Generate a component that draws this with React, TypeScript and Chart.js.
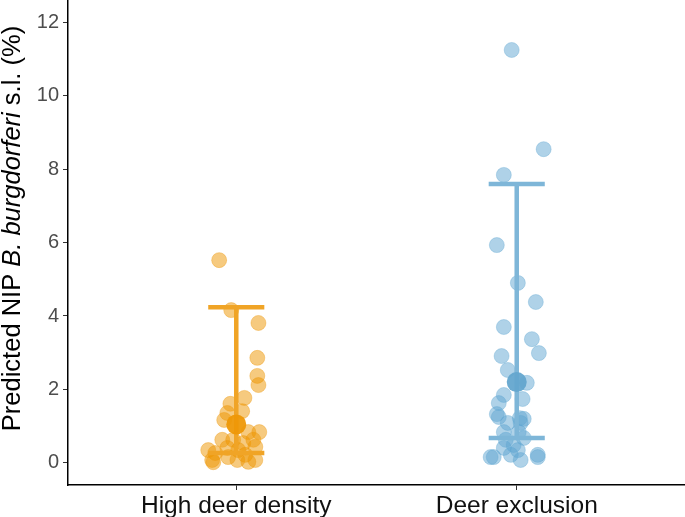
import React, { useEffect, useRef } from "react";
import { Chart, registerables } from "chart.js";

Chart.register(...registerables);

const categories = ["High deer density", "Deer exclusion"];
const yTicks = [0, 2, 4, 6, 8, 10, 12];

// High deer density: horizontal jitter (category units) and predicted NIP (%)
const highJitter = [-0.061, -0.018, 0.079, 0.075, 0.075, 0.079, 0.029, -0.021, 0.021, -0.032, -0.043, 0.043, 0.082, 0.061, -0.05, -0.011, 0.025, 0.068, -0.1, -0.075, 0.007, 0.032, -0.086, 0.004, 0.068, 0.043, -0.029, -0.082, -0.032];
const highValues = [5.52, 4.16, 3.81, 2.86, 2.37, 2.12, 1.77, 1.61, 1.41, 1.36, 1.17, 0.84, 0.84, 0.63, 0.63, 0.63, 0.54, 0.44, 0.35, 0.27, 0.35, 0.22, 0.08, 0.08, 0.08, 0.03, 0.16, 0.02, 0.41];

// Deer exclusion
const exclJitter = [-0.018, 0.096, -0.046, -0.071, 0.004, 0.068, -0.046, 0.054, 0.079, -0.054, -0.032, 0.036, -0.046, -0.064, 0.021, -0.071, -0.064, 0.011, 0.025, -0.032, 0.014, -0.046, 0.007, 0.025, -0.039, -0.011, -0.046, -0.093, -0.082, -0.021, 0.014, 0.075, 0.075, 0.004];
const exclValues = [11.24, 8.54, 7.84, 5.93, 4.9, 4.38, 3.7, 3.37, 2.99, 2.91, 2.53, 2.18, 1.85, 1.63, 1.74, 1.33, 1.25, 1.22, 1.2, 1.09, 1.09, 0.84, 0.84, 0.68, 0.63, 0.49, 0.41, 0.16, 0.16, 0.22, 0.08, 0.22, 0.16, 0.35];

// Summary: mean, lower and upper bound per category
const means = [1.05, 2.2];
const lowers = [0.27, 0.68];
const uppers = [4.24, 7.59];

const capHalf = 0.1;
const FONT = "'Liberation Sans', Arial, Helvetica, sans-serif";

const orangePt = "rgba(238,150,0,0.5)";
const orangePtBorder = "rgba(238,150,0,0.35)";
const orangeBar = "rgb(240,164,38)";
const orangeMean = "rgba(238,152,6,0.95)";
const bluePt = "rgba(95,165,209,0.5)";
const bluePtBorder = "rgba(95,165,209,0.35)";
const blueBar = "rgb(126,182,216)";
const blueMean = "rgba(100,166,207,0.95)";

function errorBar(i: number) {
  const x = i + 1;
  return [
    { x: x - capHalf, y: uppers[i] },
    { x: x + capHalf, y: uppers[i] },
    { x: x, y: null },
    { x: x, y: uppers[i] },
    { x: x, y: lowers[i] },
    { x: x, y: null },
    { x: x - capHalf, y: lowers[i] },
    { x: x + capHalf, y: lowers[i] },
  ];
}

const yTitlePlugin = {
  id: "yTitle",
  afterDraw(chart: any) {
    const ctx = chart.ctx;
    const parts = [
      { t: "Predicted NIP ", f: `25.5px ${FONT}` },
      { t: "B. burgdorferi", f: `italic 25.5px ${FONT}` },
      { t: " s.l. (%)", f: `25.5px ${FONT}` },
    ];
    ctx.save();
    let total = 0;
    const widths = parts.map((p) => {
      ctx.font = p.f;
      const w = ctx.measureText(p.t).width;
      total += w;
      return w;
    });
    const cy = (chart.chartArea.top + chart.chartArea.bottom) / 2 - 14;
    ctx.translate(20, cy);
    ctx.rotate(-Math.PI / 2);
    ctx.fillStyle = "#000";
    ctx.textBaseline = "alphabetic";
    ctx.textAlign = "left";
    let x = -total / 2;
    parts.forEach((p, k) => {
      ctx.font = p.f;
      ctx.fillText(p.t, x, 0);
      x += widths[k];
    });
    ctx.restore();
  },
};

function zeroPad(scale: any) {
  scale.paddingTop = 0;
  scale.paddingBottom = 0;
  scale.paddingLeft = 0;
  scale.paddingRight = 0;
}

export default function App() {
  const ref = useRef<HTMLCanvasElement>(null);
  useEffect(() => {
    if (!ref.current) return;
    const chart = new Chart(ref.current, {
      type: "scatter",
      data: {
        datasets: [
          {
            data: means.map((m, i) => ({ x: i + 1, y: m })),
            pointRadius: 10,
            pointBackgroundColor: [orangeMean, blueMean],
            pointBorderWidth: 0,
            order: 0,
          },
          {
            data: errorBar(0) as any,
            showLine: true,
            spanGaps: false,
            borderColor: orangeBar,
            borderWidth: 4.5,
            borderCapStyle: "butt",
            pointRadius: 0,
            order: 1,
          },
          {
            data: errorBar(1) as any,
            showLine: true,
            spanGaps: false,
            borderColor: blueBar,
            borderWidth: 4.5,
            borderCapStyle: "butt",
            pointRadius: 0,
            order: 1,
          },
          {
            data: highValues.map((v, i) => ({ x: 1 + highJitter[i], y: v })),
            pointRadius: 7.5,
            pointBackgroundColor: orangePt,
            pointBorderColor: orangePtBorder,
            pointBorderWidth: 1,
            order: 2,
          },
          {
            data: exclValues.map((v, i) => ({ x: 2 + exclJitter[i], y: v })),
            pointRadius: 7.5,
            pointBackgroundColor: bluePt,
            pointBorderColor: bluePtBorder,
            pointBorderWidth: 1,
            order: 2,
          },
        ],
      },
      options: {
        responsive: false,
        animation: false,
        layout: { padding: 0, autoPadding: false },
        plugins: {
          legend: { display: false },
          tooltip: { enabled: false },
          title: { display: false },
        },
        scales: {
          x: {
            type: "linear",
            min: 0.4,
            max: 2.6,
            afterBuildTicks(scale: any) {
              scale.ticks = [{ value: 1 }, { value: 2 }];
            },
            afterFit(scale: any) {
              scale.height = 32;
              zeroPad(scale);
            },
            ticks: {
              autoSkip: false,
              maxRotation: 0,
              padding: 2,
              color: "#111",
              font: { family: FONT, size: 24.5 },
              callback: (v: any) => categories[Math.round(Number(v)) - 1] ?? "",
            },
            grid: {
              display: true,
              drawOnChartArea: false,
              drawTicks: true,
              tickLength: 5,
              color: "#333",
              lineWidth: 1,
            },
            border: { display: true, color: "#000", width: 1.5 },
          },
          y: {
            type: "linear",
            min: -0.6,
            max: 12.6,
            afterBuildTicks(scale: any) {
              scale.ticks = yTicks.map((v) => ({ value: v }));
            },
            afterFit(scale: any) {
              scale.width = 68;
              zeroPad(scale);
            },
            ticks: {
              autoSkip: false,
              padding: 4,
              color: "#4d4d4d",
              font: { family: FONT, size: 20 },
            },
            grid: {
              display: true,
              drawOnChartArea: false,
              drawTicks: true,
              tickLength: 5,
              color: "#333",
              lineWidth: 1,
            },
            border: { display: true, color: "#000", width: 1.5 },
          },
        },
      },
      plugins: [yTitlePlugin],
    });
    return () => chart.destroy();
  }, []);
  return (
    <div style={{ position: "fixed", left: 0, top: 0, width: 685, height: 517, background: "#fff" }}>
      <canvas ref={ref} width={685} height={517} style={{ display: "block" }} />
    </div>
  );
}
